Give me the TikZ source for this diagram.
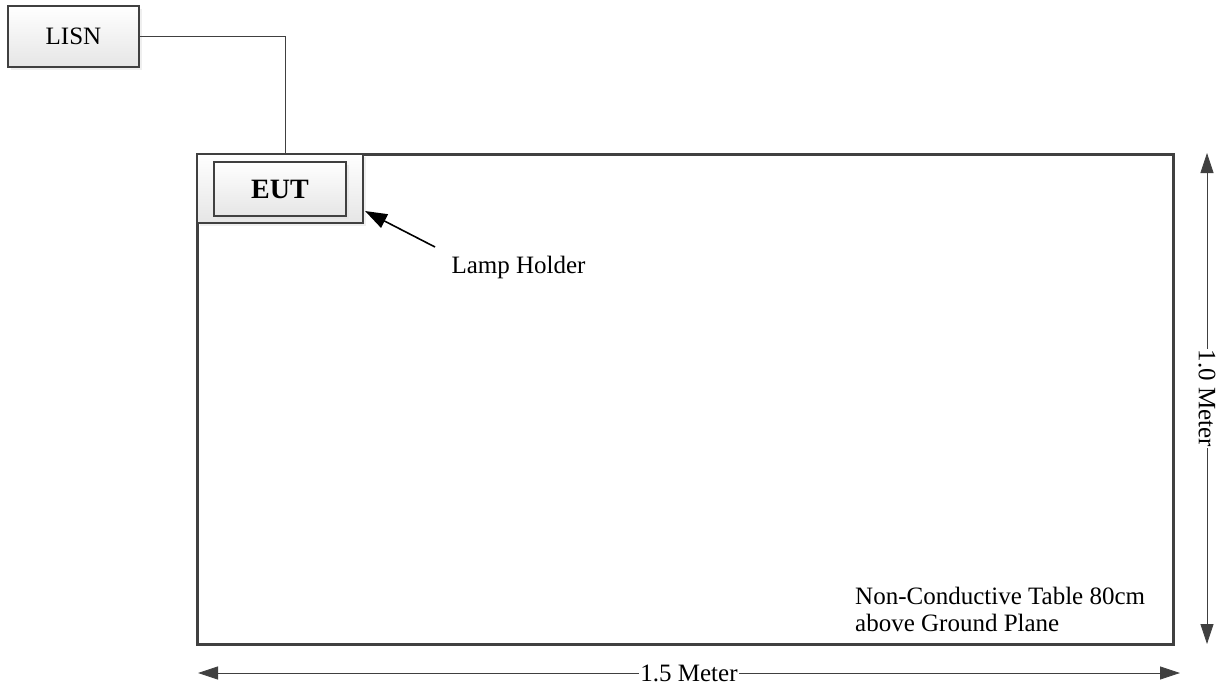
\documentclass[tikz,border=0pt]{standalone}
\usepackage{fontspec}
\setmainfont{Liberation Serif}
\usetikzlibrary{arrows.meta,shadows}
\definecolor{edgegray}{HTML}{404040}
\tikzset{
  unitbox/.style={draw=edgegray, line width=2pt, top color=white, bottom color=black!10,
    drop shadow={shadow xshift=3pt, shadow yshift=-3pt, fill=black!12}, inner sep=0pt},
  dimline/.style={edgegray, line width=0.8pt,
    {Triangle[length=20pt,width=13pt]}-{Triangle[length=20pt,width=13pt]}},
  dimlabel/.style={fill=white, text=black, inner sep=1pt}
}
\begin{document}
\begin{tikzpicture}[x=1pt,y=-1pt,font=\fontsize{25}{27}\selectfont]
  \useasboundingbox (0,0) rectangle (1221,688);
  % table and units
  \node[draw=edgegray, line width=3pt, minimum width=976, minimum height=490, inner sep=0pt] (table) at (685,399) {};
  \node[unitbox, minimum width=131, minimum height=61] (lisn) at (73.5,36.5) {LISN};
  \node[unitbox, minimum width=166, minimum height=69] (holder) at (280,188.5) {};
  \node[unitbox, minimum width=132, minimum height=54, font=\fontsize{28}{30}\selectfont\bfseries] (eut) at (280,189) {EUT};
  % power lead
  \coordinate (feed) at (285,154);
  \draw[edgegray, line width=1pt] (lisn.east) -| (feed);
  % labels
  \node (lampnote) at (518.5,267) {Lamp Holder};
  \coordinate (lamptail) at (435,247);
  \coordinate (lamphead) at (365,211);
  \draw[black, line width=1.6pt, -{Triangle[length=22pt,width=15pt]}] (lamptail) -- (lamphead);
  \node[anchor=north west, align=left, inner sep=0pt] (tablenote) at (855,587) {Non-Conductive Table 80cm\\above Ground Plane};
  % dimensions
  \coordinate (vtop) at (1207,153);
  \coordinate (vbot) at (1207,644);
  \draw[dimline] (vtop) -- node[dimlabel, rotate=-90] (vlabel) {1.0 Meter} (vbot);
  \coordinate (hleft) at (198,673);
  \coordinate (hright) at (1180,673);
  \draw[dimline] (hleft) -- node[dimlabel] (hlabel) {1.5 Meter} (hright);
\end{tikzpicture}
\end{document}
